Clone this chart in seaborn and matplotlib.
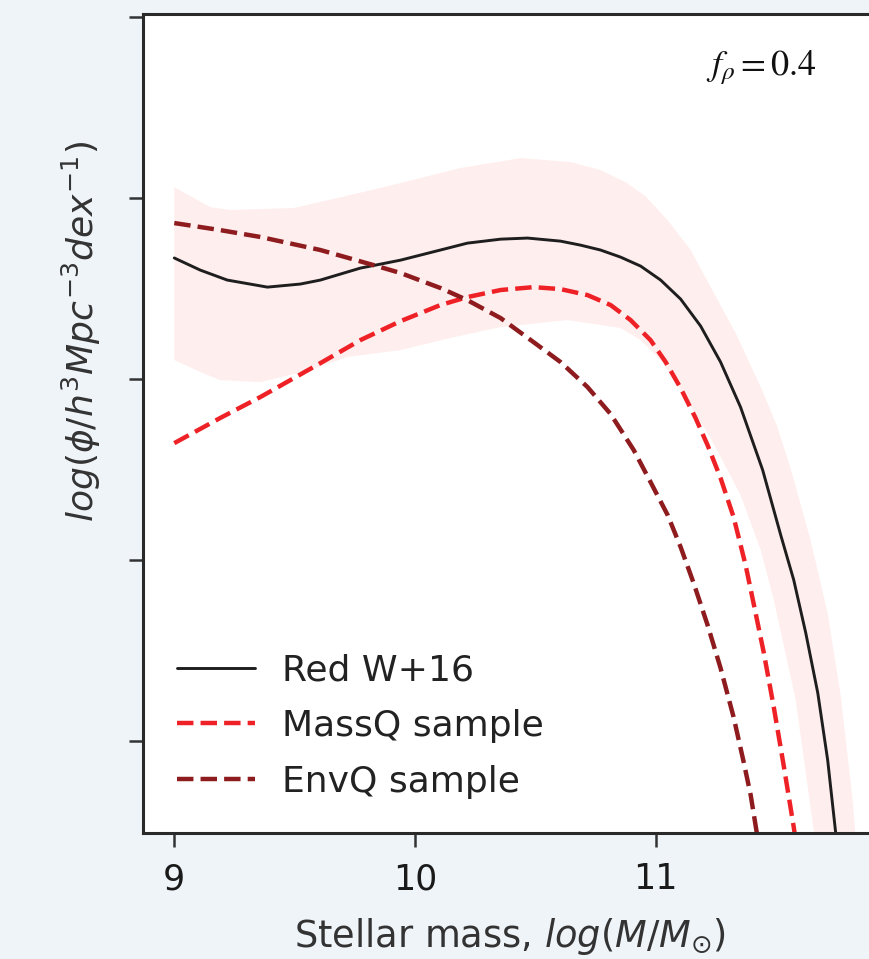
import numpy as np
import pandas as pd
import matplotlib
matplotlib.use("Agg")
import matplotlib.pyplot as plt
import seaborn as sns

# Stellar mass (log M/Msun) and log number density for each curve
red_w16_mass = [9.000, 9.108, 9.220, 9.387, 9.524, 9.607, 9.773, 9.940, 10.106, 10.218,
                10.356, 10.468, 10.605, 10.688, 10.771, 10.854, 10.938, 11.021, 11.104,
                11.187, 11.270, 11.353, 11.445, 11.520, 11.574, 11.624, 11.674, 11.715,
                11.748, 11.790]
red_w16_phi = [-3.331, -3.398, -3.453, -3.492, -3.475, -3.453, -3.387, -3.343, -3.287,
               -3.249, -3.227, -3.221, -3.238, -3.260, -3.287, -3.326, -3.376, -3.453,
               -3.558, -3.707, -3.906, -4.155, -4.503, -4.862, -5.110, -5.403, -5.735,
               -6.105, -6.503, -6.961]

massq_mass = [9.000, 9.191, 9.358, 9.482, 9.607, 9.773, 9.940, 10.106, 10.218, 10.356,
              10.493, 10.605, 10.717, 10.813, 10.896, 10.979, 11.042, 11.104, 11.166,
              11.216, 11.270, 11.324, 11.374, 11.407, 11.449, 11.491, 11.532, 11.574,
              11.615]
massq_phi = [-4.354, -4.215, -4.099, -4.006, -3.912, -3.785, -3.680, -3.591, -3.547,
             -3.508, -3.492, -3.503, -3.536, -3.591, -3.674, -3.785, -3.906, -4.050,
             -4.215, -4.365, -4.547, -4.762, -5.028, -5.238, -5.508, -5.812, -6.133,
             -6.475, -6.851]

envq_mass = [9.000, 9.191, 9.358, 9.607, 9.827, 9.940, 10.106, 10.218, 10.356, 10.493,
             10.605, 10.717, 10.813, 10.909, 10.979, 11.050, 11.104, 11.158, 11.216,
             11.270, 11.324, 11.366, 11.395, 11.420, 11.449]
envq_phi = [-3.138, -3.177, -3.215, -3.287, -3.370, -3.414, -3.497, -3.564, -3.663,
            -3.796, -3.906, -4.044, -4.193, -4.392, -4.569, -4.751, -4.928, -5.127,
            -5.359, -5.597, -5.867, -6.116, -6.298, -6.503, -6.740]

# Uncertainty envelope of the W+16 red mass function
band_upper_mass = [9.000, 9.067, 9.150, 9.233, 9.495, 9.732, 9.940, 10.189, 10.439,
                   10.647, 10.771, 10.875, 10.958, 11.050, 11.146, 11.229, 11.333,
                   11.437, 11.503, 11.561, 11.644, 11.715, 11.769, 11.819, 11.852]
band_upper_phi = [-2.939, -2.989, -3.050, -3.066, -3.055, -2.983, -2.917, -2.834,
                  -2.779, -2.801, -2.845, -2.912, -2.989, -3.122, -3.287, -3.492,
                  -3.746, -4.044, -4.254, -4.492, -4.890, -5.293, -5.746, -6.326,
                  -6.878]
band_lower_mass = [9.000, 9.108, 9.191, 9.358, 9.565, 9.719, 9.940, 10.148, 10.356,
                   10.634, 10.854, 10.938, 11.021, 11.104, 11.229, 11.353, 11.437,
                   11.491, 11.582, 11.657, 11.686]
band_lower_phi = [-3.895, -3.961, -4.006, -4.017, -3.950, -3.878, -3.840, -3.773,
                  -3.713, -3.674, -3.718, -3.785, -3.895, -4.061, -4.326, -4.641,
                  -4.945, -5.221, -5.773, -6.492, -6.878]

y_ticks = [-2, -3, -4, -5, -6]
x_ticks = [9, 10, 11]

sns.set_style("ticks")
plt.rcParams["font.family"] = ["DejaVu Sans"]
plt.rcParams["mathtext.fontset"] = "dejavusans"

W, H = 870, 959
fig = plt.figure(figsize=(W / 100, H / 100), dpi=100, facecolor="#eff4f9")
ax = fig.add_axes([143 / W, 1 - 833 / H, 734 / W, 819 / H])
ax.set_facecolor("white")

# shaded envelope
ax.fill(np.concatenate([band_upper_mass, band_lower_mass[::-1]]),
        np.concatenate([band_upper_phi, band_lower_phi[::-1]]),
        color="red", alpha=0.065, lw=0)

df_w16 = pd.DataFrame({"mass": red_w16_mass, "phi": red_w16_phi})
df_massq = pd.DataFrame({"mass": massq_mass, "phi": massq_phi})
df_envq = pd.DataFrame({"mass": envq_mass, "phi": envq_phi})

sns.lineplot(data=df_w16, x="mass", y="phi", ax=ax, color="#1e1e1e", lw=2.1,
             label="Red W+16", solid_joinstyle="round")
sns.lineplot(data=df_massq, x="mass", y="phi", ax=ax, color="#ee2226", lw=3.2,
             linestyle="--", label="MassQ sample", dash_joinstyle="round")
sns.lineplot(data=df_envq, x="mass", y="phi", ax=ax, color="#8e1b1e", lw=3.2,
             linestyle="--", label="EnvQ sample", dash_joinstyle="round")

ax.set_xticks(x_ticks)
ax.set_yticks(y_ticks)
ax.set_yticklabels([])
ax.set_xlim(8.87, 11.92)
ax.set_ylim(-6.508, -1.983)
ax.tick_params(axis="both", length=10, width=1.8, color="#333333",
               labelsize=25, pad=11, labelcolor="#1a1a1a")
for sp in ax.spines.values():
    sp.set_linewidth(2.2)
    sp.set_color("#2a2a2a")

ax.set_xlabel(r"Stellar mass, $log(M/M_{\odot})$", fontsize=26.5, color="#333333",
              labelpad=14)
ax.set_ylabel(r"$log(\phi/h^3Mpc^{-3}dex^{-1})$", fontsize=26, color="#333333")
ax.yaxis.set_label_coords(-0.055, 0.612)

ax.text(0.843, 0.935, r"$f_\rho = 0.4$", transform=ax.transAxes, fontsize=26,
        ha="center", va="center", math_fontfamily="stix", color="#111111")

leg = ax.legend(loc="lower left", frameon=False, fontsize=26, labelspacing=0.6,
                handlelength=2.15, handletextpad=0.75, borderaxespad=0.55)
for t in leg.get_texts():
    t.set_color("#222222")

fig.savefig("out.png", dpi=100, facecolor=fig.get_facecolor())
